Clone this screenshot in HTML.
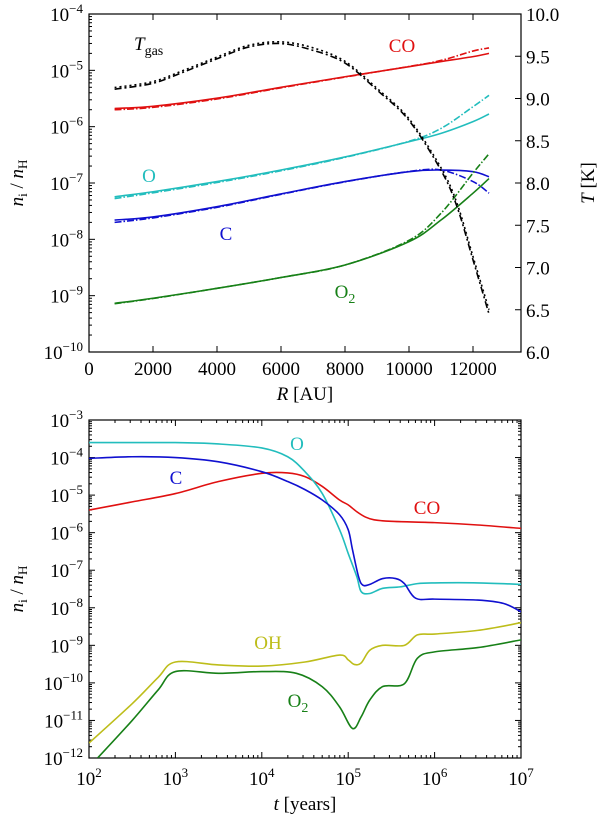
<!DOCTYPE html>
<html><head><meta charset="utf-8"><style>
body{margin:0;background:#fff;}
svg text{font-family:"Liberation Serif","DejaVu Serif",serif;}
</style></head><body>
<svg id="s" width="600" height="817" xmlns="http://www.w3.org/2000/svg"></svg>
<script>
// ---------- Top panel data ----------
const topR = [800,2000,4000,6000,8000,10000,11000,12000,12500];
const coSolid = [2.1e-6,2.3e-6,3.2e-6,5.0e-6,7.7e-6,1.16e-5,1.43e-5,1.75e-5,2.0e-5];
const coDash  = [2.0e-6,2.2e-6,3.1e-6,4.9e-6,7.6e-6,1.17e-5,1.5e-5,2.2e-5,2.5e-5];
const oSolid = [5.7e-8,7.0e-8,1.06e-7,1.7e-7,2.9e-7,5.4e-7,7.6e-7,1.23e-6,1.68e-6];
const oDash  = [5.3e-8,6.7e-8,1.02e-7,1.65e-7,2.85e-7,5.5e-7,9.3e-7,2.26e-6,3.6e-6];
const cSolid = [2.2e-8,2.5e-8,3.8e-8,6.4e-8,1.06e-7,1.59e-7,1.7e-7,1.59e-7,1.29e-7];
const cDash  = [2.0e-8,2.4e-8,3.7e-8,6.3e-8,1.05e-7,1.6e-7,1.7e-7,1.06e-7,6.6e-8];
const o2Solid = [7.3e-10,9.0e-10,1.35e-9,2.1e-9,3.5e-9,9.1e-9,2.2e-8,6.6e-8,1.2e-7];
const o2Dash  = [7.2e-10,8.9e-10,1.35e-9,2.1e-9,3.5e-9,9.6e-9,2.9e-8,1.5e-7,3.3e-7];
const tempR = [800,2000,3000,4000,5000,6000,7000,8000,9000,10000,11000,11500,12000,12500];
const tGasA = [9.11,9.18,9.32,9.47,9.61,9.65,9.57,9.42,9.10,8.74,8.15,7.72,7.09,6.45];
const tGasB = [9.13,9.20,9.34,9.49,9.63,9.67,9.60,9.44,9.12,8.76,8.18,7.76,7.13,6.5];
const topXTicks = [0,2000,4000,6000,8000,10000,12000];
const topYExp = [-10,-9,-8,-7,-6,-5,-4];
const tTicks = ["6.0","6.5","7.0","7.5","8.0","8.5","9.0","9.5","10.0"];
// ---------- Bottom panel data ----------
const coT = [2,2.5,3,3.5,4,4.3,4.5,4.7,4.9,5,5.1,5.2,5.3,5.5,6,6.5,7];
const coV = [4e-6,6.6e-6,1.1e-5,2.3e-5,3.8e-5,3.9e-5,3.1e-5,1.7e-5,7.4e-6,5.5e-6,3.6e-6,2.6e-6,2.2e-6,2e-6,1.85e-6,1.6e-6,1.3e-6];
const oT = [2,3,3.5,4,4.3,4.5,4.7,4.9,5,5.1,5.15,5.25,5.4,5.6,5.8,6,6.5,7];
const oV = [2.5e-4,2.5e-4,2.3e-4,1.8e-4,1.05e-4,4.2e-5,1.1e-5,1.2e-6,2.8e-7,6.7e-8,2.7e-8,2.4e-8,3.3e-8,3.6e-8,4.4e-8,4.6e-8,4.6e-8,4.2e-8];
const cT = [2,2.5,3,3.5,4,4.3,4.5,4.7,4.9,5,5.05,5.12,5.17,5.25,5.4,5.55,5.65,5.78,6,6.5,6.8,7];
const cV = [9.5e-5,1.05e-4,1.0e-4,7.7e-5,4.2e-5,2.3e-5,1.4e-5,7.4e-6,3e-6,1.2e-6,3.5e-7,6.7e-8,4e-8,4.2e-8,6e-8,6e-8,4.4e-8,1.8e-8,1.7e-8,1.6e-8,1.3e-8,7.8e-9];
const ohT = [2,2.5,2.8,3,3.5,4,4.5,4.9,5,5.07,5.15,5.25,5.4,5.65,5.8,6,6.5,7];
const ohV = [2.5e-12,2.8e-11,1.4e-10,3.6e-10,3e-10,2.8e-10,3.6e-10,5.5e-10,4.1e-10,3.1e-10,3.4e-10,7.4e-10,1e-9,1e-9,1.9e-9,2e-9,2.5e-9,4e-9];
const o2T = [2.1,2.5,2.8,3,3.5,4,4.4,4.7,4.9,5.05,5.15,5.25,5.4,5.65,5.8,6,6.5,7];
const o2V = [1e-12,1e-11,6.5e-11,2e-10,1.8e-10,2e-10,1.8e-10,7.9e-11,2.3e-11,6.1e-12,1.25e-11,3.5e-11,8e-11,9.5e-11,4.5e-10,6.7e-10,8.7e-10,1.4e-9];
const botXExp = [2,3,4,5,6,7];
const botYExp = [-12,-11,-10,-9,-8,-7,-6,-5,-4,-3];

const NS="http://www.w3.org/2000/svg";
const svg=document.getElementById('s');
function mk(tag,attrs,parent){const e=document.createElementNS(NS,tag);for(const k in attrs)e.setAttribute(k,attrs[k]);(parent||svg).appendChild(e);return e;}
const L=89,Rt=521;
// axis functions
const tx=r=>L+(r/13500)*(Rt-L);
const ty=v=>14+(-4-Math.log10(v))/6*338;
const tT=t=>352-(t-6)/4*338;
const bx=lt=>L+(lt-2)/5*(Rt-L);
const by=v=>420+(-3-Math.log10(v))/9*338;

function smooth(pts){let d=`M${pts[0][0].toFixed(2)},${pts[0][1].toFixed(2)}`;
 for(let i=0;i<pts.length-1;i++){const p0=pts[Math.max(0,i-1)],p1=pts[i],p2=pts[i+1],p3=pts[Math.min(pts.length-1,i+2)];
  const c1=[p1[0]+(p2[0]-p0[0])/6,p1[1]+(p2[1]-p0[1])/6],c2=[p2[0]-(p3[0]-p1[0])/6,p2[1]-(p3[1]-p1[1])/6];
  d+=`C${c1[0].toFixed(2)},${c1[1].toFixed(2)} ${c2[0].toFixed(2)},${c2[1].toFixed(2)} ${p2[0].toFixed(2)},${p2[1].toFixed(2)}`;}
 return d;}
function line(xs,ys,fx,fy,color,dash,name,clip){
 const p=mk('path',{d:smooth(xs.map((x,i)=>[fx(x),fy(ys[i])])),fill:'none',stroke:color,'stroke-width':1.6,'stroke-dasharray':dash||'none','clip-path':clip});
 
 
}
function txt(x,y,s,attrs,name){const t=mk('text',Object.assign({x:x,y:y,'font-size':19},attrs||{}));t.innerHTML=s;
 
 
 return t;}

mk('clipPath',{id:'c1'}).appendChild(Object.assign(document.createElementNS(NS,'rect'),{}));
document.querySelector('#c1 rect').setAttribute('x',L);document.querySelector('#c1 rect').setAttribute('y',14);
document.querySelector('#c1 rect').setAttribute('width',Rt-L);document.querySelector('#c1 rect').setAttribute('height',338);
const c2=mk('clipPath',{id:'c2'});mk('rect',{x:L,y:420,width:Rt-L,height:338},c2);

// ---- top panel axes ----
function tick(x1,y1,x2,y2){mk('line',{x1,y1,x2,y2,stroke:'#000','stroke-width':1});}
topXTicks.forEach(v=>{const x=tx(v);tick(x,352,x,346);tick(x,14,x,20);txt(x,375,v,{'text-anchor':'middle'},'x-tick-label');});
topYExp.forEach((e,i)=>{const y=ty(Math.pow(10,e));tick(L,y,L+6,y);
 txt(L-6,y+7,`10<tspan dy="-8" font-size="13">−${-e}</tspan>`,{'text-anchor':'end'},'y-tick-label');
 if(e<-4)for(let m=2;m<10;m++){const yy=ty(m*Math.pow(10,e));tick(L,yy,L+3,yy);}});
tTicks.forEach(s=>{const y=tT(parseFloat(s));tick(Rt,y,Rt-6,y);txt(Rt+5,y+7,s,{},'t-tick-label');});
mk('rect',{x:L,y:14,width:Rt-L,height:338,fill:'none',stroke:'#000','stroke-width':1.2});

line(topR,coDash,tx,ty,'#e01010','7,2,1.5,2','co-dashdot','url(#c1)');
line(topR,coSolid,tx,ty,'#e01010',null,'co-solid','url(#c1)');
line(topR,oDash,tx,ty,'#22bdbd','7,2,1.5,2','o-dashdot','url(#c1)');
line(topR,oSolid,tx,ty,'#22bdbd',null,'o-solid','url(#c1)');
line(topR,cDash,tx,ty,'#1010d0','7,2,1.5,2','c-dashdot','url(#c1)');
line(topR,cSolid,tx,ty,'#1010d0',null,'c-solid','url(#c1)');
line(topR,o2Dash,tx,ty,'#178017','7,2,1.5,2','o2-dashdot','url(#c1)');
line(topR,o2Solid,tx,ty,'#178017',null,'o2-solid','url(#c1)');
line(tempR,tGasA,tx,tT,'#000','7,3,2,3','tgas-dashdot','url(#c1)');
line(tempR,tGasB,tx,tT,'#000','2,3','tgas-dotted','url(#c1)');

txt(134,50,`<tspan font-style="italic">T</tspan><tspan font-size="14" dy="5">gas</tspan>`,{},'tgas-label');
txt(402,52,'CO',{'text-anchor':'middle',fill:'#e01010'},'co-label');
txt(149,182,'O',{'text-anchor':'middle',fill:'#22bdbd'},'o-label');
txt(226,240,'C',{'text-anchor':'middle',fill:'#1010d0'},'c-label');
txt(345,298,'O<tspan font-size="14" dy="5">2</tspan>',{'text-anchor':'middle',fill:'#178017'},'o2-label');
txt(305,400,'<tspan font-style="italic">R</tspan> [AU]',{'text-anchor':'middle'},'x-axis-title');
txt(0,0,'<tspan font-style="italic">n</tspan><tspan font-size="13" dy="4">i</tspan><tspan dy="-4"> / </tspan><tspan font-style="italic">n</tspan><tspan font-size="13" dy="4">H</tspan>',{'text-anchor':'middle',transform:'translate(23,183) rotate(-90)'},'y-axis-title');
txt(0,0,'<tspan font-style="italic">T</tspan> [K]',{'text-anchor':'middle',transform:'translate(594,183) rotate(-90)'},'y2-axis-title');

// ---- bottom panel ----
botXExp.forEach(e=>{const x=bx(e);tick(x,758,x,752);tick(x,420,x,426);
 txt(x,785,`10<tspan dy="-8" font-size="13">${e}</tspan>`,{'text-anchor':'middle'},'x-tick-label');
 if(e<7)for(let m=2;m<10;m++){const xx=bx(e+Math.log10(m));tick(xx,758,xx,755);tick(xx,420,xx,423);}});
botYExp.forEach(e=>{const y=by(Math.pow(10,e));tick(L,y,L+6,y);tick(Rt,y,Rt-6,y);
 txt(L-6,y+7,`10<tspan dy="-8" font-size="13">−${-e}</tspan>`,{'text-anchor':'end'},'y-tick-label');
 if(e<-3)for(let m=2;m<10;m++){const yy=by(m*Math.pow(10,e));tick(L,yy,L+3,yy);tick(Rt,yy,Rt-3,yy);}});
mk('rect',{x:L,y:420,width:Rt-L,height:338,fill:'none',stroke:'#000','stroke-width':1.2});

line(coT,coV,bx,by,'#e01010',null,'co-line','url(#c2)');
line(oT,oV,bx,by,'#22bdbd',null,'o-line','url(#c2)');
line(cT,cV,bx,by,'#1010d0',null,'c-line','url(#c2)');
line(ohT,ohV,bx,by,'#bdbd1a',null,'oh-line','url(#c2)');
line(o2T,o2V,bx,by,'#178017',null,'o2-line','url(#c2)');

txt(297,450,'O',{'text-anchor':'middle',fill:'#22bdbd'},'o-label');
txt(176,484,'C',{'text-anchor':'middle',fill:'#1010d0'},'c-label');
txt(427,514,'CO',{'text-anchor':'middle',fill:'#e01010'},'co-label');
txt(268,649,'OH',{'text-anchor':'middle',fill:'#bdbd1a'},'oh-label');
txt(298,707,'O<tspan font-size="14" dy="5">2</tspan>',{'text-anchor':'middle',fill:'#178017'},'o2-label');
txt(305,810,'<tspan font-style="italic">t</tspan> [years]',{'text-anchor':'middle'},'x-axis-title');
txt(0,0,'<tspan font-style="italic">n</tspan><tspan font-size="13" dy="4">i</tspan><tspan dy="-4"> / </tspan><tspan font-style="italic">n</tspan><tspan font-size="13" dy="4">H</tspan>',{'text-anchor':'middle',transform:'translate(23,589) rotate(-90)'},'y-axis-title');
</script>
</body></html>
